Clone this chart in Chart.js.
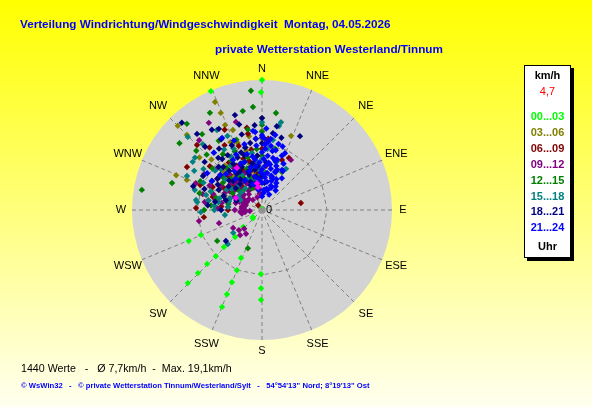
<!DOCTYPE html>
<html lang="de">
<head>
<meta charset="utf-8">
<title>Verteilung Windrichtung/Windgeschwindigkeit</title>
<script src="https://cdn.jsdelivr.net/npm/chart.js@4.4.1/dist/chart.umd.min.js"></script>
<style>
  html, body { margin: 0; padding: 0; background: #ffffff; overflow: hidden; }
  #windChart { display: block; }
</style>
</head>
<body>
<canvas id="windChart" width="592" height="407"></canvas>
<script>
/* ================================
   WINDROSE - Richtung / Geschwindigkeit
   ================================ */

// Himmelsrichtungen (Achsbeschriftung)
const directions = ['N', 'NNE', 'NE', 'ENE', 'E', 'ESE', 'SE', 'SSE',
                    'S', 'SSW', 'SW', 'WSW', 'W', 'WNW', 'NW', 'NNW'];

// Zeitblöcke (Uhr)
const hourBlocks = ['00...03', '03...06', '06...09', '09...12',
                    '12...15', '15...18', '18...21', '21...24'];

// Messwerte je Block: [Richtung in Grad, Geschwindigkeit in km/h]
const h00_03 = [
  [0, 19.1], [359.5, 17.3], [336.7, 19.0], [0, 0.2], [232, 1.7], [228, 1.8],
  [228, 3.7], [225, 5.6], [225.8, 7.8], [225, 9.6], [225.5, 11.3], [225.4, 13.2], [225.4, 15.3],
  [247.7, 9.7], [247, 11.7],
  [203.6, 7.7], [202.6, 9.6], [202.6, 11.5], [202.6, 13.4], [202.4, 15.4],
  [181, 9.4], [180.7, 11.5], [180.6, 13.2]
];
const h03_06 = [
  [336.5, 17.3], [337, 15.5], [315, 17.5], [315, 15.6], [292, 13.6], [0, 13.5], [0, 11.6],
  [21.4, 11.7], [291.8, 11.9], [336.5, 13.6],
  [330, 9], [335, 7.5], [340, 10.5], [345, 9], [350, 11], [325, 10], [320, 8.5],
  [315, 10.5], [355, 8], [0, 10.5], [310, 12], [340, 12.5],
  [325, 7], [330, 6], [345, 7], [350, 5.5], [320, 6.5], [335, 11], [315, 8], [340, 8]
];
const h06_09 = [
  [79.8, 5.8], [21.8, 7.9], [27.4, 8.6], [299.8, 12.7], [315, 13.5], [349.6, 12.3],
  [349.6, 11.4], [271.7, 9.7], [263, 8.6], [292, 9.8], [321, 0.9], [4.2, 10.0],
  [315, 7], [325, 8.5], [335, 6.5], [345, 7.5], [350, 9], [355, 10.5], [0, 9], [305, 6],
  [295, 8], [310, 10], [320, 6], [330, 11], [340, 10], [300, 5], [345, 4.5], [355, 5.5],
  [5, 6.5], [285, 7.5], [320, 12], [335, 13], [5, 10.5], [310, 4],
  [300, 6.5], [310, 5.5], [320, 4.5], [325, 5.5], [330, 7.5], [335, 5], [340, 4], [345, 6],
  [350, 7], [355, 4], [305, 8], [315, 8.5], [330, 3.5], [290, 6], [0, 5], [340, 8],
  [280, 8], [275, 6], [270, 5]
];
const h09_12 = [
  [328.6, 15.0], [343.5, 13.5], [318, 13.8], [30, 8.5],
  [238, 5.0], [214, 4.2], [229, 4.5], [260, 9.4], [253, 6.6], [223.5, 3.8], [221, 4.9],
  [265, 3.2], [263, 2.5], [265, 1.8],
  [300, 4], [305, 5], [295, 6], [290, 5], [285, 4], [280, 6], [275, 5], [282, 7], [292, 3],
  [288, 7.5], [300, 7], [310, 6], [305, 8], [278, 8.5], [285, 9], [295, 8.5], [315, 4.5],
  [310, 3.5], [298, 2.5], [285, 2.5], [270, 4], [272, 6.5], [320, 5.5], [325, 3.5],
  [330, 4.5], [318, 7], [335, 6], [340, 3.5], [345, 5], [350, 4], [355, 3], [326, 7.5],
  [312, 9], [302, 10], [292, 10.5], [318, 2],
  [300, 3], [310, 2.5], [320, 3], [330, 3.5], [340, 2], [290, 3.5], [280, 3], [275, 3],
  [295, 4.5], [305, 3.5], [315, 5.5], [325, 5], [335, 4.5], [345, 3.5], [352, 2.5],
  [285, 5.5], [270, 2.5], [260, 3], [300, 5.5], [310, 4.8]
];
const h12_15 = [
  [279.5, 17.9], [354.7, 17.6], [355, 15.2], [8.2, 14.4], [331.8, 16.2], [309, 15.6],
  [318.9, 16.8], [286.7, 13.8], [0, 12.5], [321.7, 14.2], [235.4, 8.0], [200.2, 6.0],
  [349, 14.8], [27.8, 6.3], [12, 9.2],
  [300, 8.5], [310, 9.5], [320, 8], [325, 10], [330, 7], [335, 9.5], [340, 11], [345, 8],
  [350, 6.5], [355, 9], [0, 8], [5, 5.5], [315, 11.5], [305, 7], [295, 10], [290, 6],
  [340, 5], [328, 12], [312, 13], [350, 12], [0, 11.5], [285, 9.5],
  [300, 5], [310, 4.5], [320, 4], [325, 6], [330, 5.5], [335, 3.5], [340, 6.5], [345, 4],
  [350, 3], [355, 5], [295, 7], [305, 5.5], [315, 6.5], [328, 8.5], [338, 7.5], [290, 8],
  [0, 6], [310, 7.5], [280, 5], [275, 7.5], [285, 7], [270, 8.5]
];
const h15_18 = [
  [12.2, 13.2], [11.4, 12.6], [30.3, 7.0], [16.3, 7.3], [0, 12.9], [8.9, 10.4],
  [314.6, 15.3], [304.8, 12.4], [294.4, 12.1], [286.6, 10.3], [278.6, 9.8], [330.6, 13.5],
  [277, 9.6], [225, 7.1], [262.3, 5.5], [17, 7.5], [231.6, 5.4],
  [290, 8], [295, 9.5], [300, 6], [305, 10.5], [310, 7], [315, 8.5], [320, 11], [325, 6.5],
  [330, 9], [335, 12], [340, 7.5], [345, 9.5], [285, 6.5], [280, 8], [300, 11.5], [312, 5],
  [322, 4], [350, 8.5], [355, 6], [0, 7.5], [5, 9], [275, 7], [308, 12.5], [328, 10.5], [318, 13],
  [300, 4], [305, 5.5], [310, 4], [315, 6], [320, 5], [325, 8], [330, 6], [335, 5],
  [340, 4.5], [345, 6.5], [290, 5], [295, 3.5], [285, 5], [350, 4.5], [355, 7], [0, 5.5],
  [320, 7.5], [310, 9], [335, 10], [300, 8.5],
  [275, 5], [280, 6.5], [285, 8.5], [270, 7], [268, 9]
];
const h18_21 = [
  [317.4, 17.4], [27.2, 12.2], [344.1, 14.5], [8.1, 11.4], [328, 13.9], [289, 10.7],
  [319.5, 14.7], [229.3, 7.0],
  [315, 9], [320, 10], [325, 11], [330, 12], [335, 10.5], [340, 9], [345, 11.5], [350, 10],
  [355, 12.5], [0, 9.8], [320, 7.5], [328, 8], [335, 7], [342, 8.5], [348, 7], [355, 8],
  [310, 11], [305, 8], [300, 10], [318, 12.5], [332, 13.5], [340, 6], [325, 5.5], [350, 5],
  [5, 7], [10, 12.5], [15, 11], [338, 4.5], [312, 6.5], [295, 7], [290, 9], [345, 13],
  [0, 13.5], [322, 9.5], [330, 6.5],
  [320, 5], [325, 6.5], [315, 6], [330, 5], [335, 4], [345, 4], [350, 6], [355, 6.5],
  [340, 5.5], [310, 5], [305, 6], [300, 7.5], [318, 8.5], [328, 9.5], [335, 8.5], [345, 9.5],
  [0, 5], [5, 4], [290, 6], [310, 8],
  [280, 7], [275, 8], [285, 5.5], [270, 6], [290, 4]
];
const h21_24 = [
  [355, 11.5], [0, 11], [2, 10.5], [5, 10], [8, 9.5], [3, 9], [10, 8.8], [0, 8.5], [6, 8],
  [12, 7.8], [15, 7.5], [2, 7.5], [8, 7], [18, 6.8], [4, 6.5], [12, 6.2], [20, 6], [0, 6],
  [8, 5.5], [15, 5.2], [25, 5], [5, 4.8], [18, 4.5], [10, 4.2], [30, 4], [0, 4], [22, 3.5],
  [12, 3.2], [355, 9.5], [350, 8], [352, 6.5], [345, 10], [348, 5], [357, 7], [3, 12],
  [10, 11.2], [28, 6.5], [20, 8.5], [14, 10], [340, 7.5], [335, 9], [342, 6], [330, 8.5],
  [338, 11], [325, 7], [6, 3], [35, 3.5], [25, 7.5], [18, 9.8], [20.6, 6.3], [26.6, 6.6],
  [16.9, 5.1], [18.9, 5.9], [16.7, 7.7], [0, 10.7], [353.5, 11.7], [17.4, 4.9], [2.6, 9.6],
  [303.9, 9.7], [310, 8], [331, 12.1], [320, 11],
  [350, 3], [355, 4.5], [358, 5.5], [352, 7.5], [340, 4], [345, 6.5], [5, 2.5], [15, 3],
  [25, 2.5], [0, 2], [10, 6.8], [3, 5.2], [20, 3.8], [28, 4.5], [32, 5.5], [13, 9],
  [7, 10.5], [22, 9], [355, 10.5], [345, 8.5], [320, 6], [330, 5], [315, 7.5], [335, 7.5],
  [300, 8.5]
];
// letzte Stunde
const lastHour = [[329.2, 7.2], [350, 3.4], [349.5, 4.0], [294.8, 4.2]];

// Kennzahlen
const valueCount = 1440;
const avgSpeed = 7.7;
const maxSpeed = 19.1;
const currentSpeed = 4.7;

const blockSeries = [h00_03, h03_06, h06_09, h09_12, h12_15, h15_18, h18_21, h21_24];
const blockColors = ['#00ff00', '#808000', '#800000', '#800080',
                     '#008000', '#008080', '#000080', '#0000ff'];
const lastHourColor = '#ff00ff';

const FONT = "'Liberation Sans', Arial, sans-serif";

function fmt(v) {
  return v.toFixed(1).replace('.', ',');
}

// Richtung/Geschwindigkeit -> x/y (Nord oben, im Uhrzeigersinn)
function toXY(pairs) {
  return pairs.map(([dir, spd]) => {
    const a = dir * Math.PI / 180;
    return { x: spd * Math.sin(a), y: spd * Math.cos(a) };
  });
}

// Text auf eine gegebene Breite skalieren
function fitText(ctx, text, x, y, width, weight, color) {
  ctx.font = `${weight} 20px ${FONT}`;
  const size = 20 * width / ctx.measureText(text).width;
  ctx.font = `${weight} ${size.toFixed(2)}px ${FONT}`;
  ctx.fillStyle = color;
  ctx.textAlign = 'left';
  ctx.textBaseline = 'middle';
  ctx.fillText(text, x, y);
}

function geometry(chart) {
  const xs = chart.scales.x, ys = chart.scales.y;
  const cx = xs.getPixelForValue(0);
  const cy = ys.getPixelForValue(0);
  const R = xs.getPixelForValue(maxSpeed) - cx;
  return { cx, cy, R };
}

const rosePlugin = {
  id: 'rose',
  beforeDraw(chart) {
    const ctx = chart.ctx;
    const { cx, cy, R } = geometry(chart);

    // Hintergrund
    const bg = ctx.createLinearGradient(0, 0, 0, chart.height);
    bg.addColorStop(0, '#ffff00');
    bg.addColorStop(1, '#fffff0');
    ctx.save();
    ctx.fillStyle = bg;
    ctx.fillRect(0, 0, chart.width, chart.height);

    // Scheibe
    ctx.beginPath();
    ctx.arc(cx, cy, R, 0, Math.PI * 2);
    ctx.fillStyle = '#d3d3d3';
    ctx.fill();

    // Gitter
    ctx.strokeStyle = '#808080';
    ctx.lineWidth = 1;
    ctx.setLineDash([4, 3]);
    directions.forEach((d, i) => {
      const a = i * Math.PI / 8;
      ctx.beginPath();
      ctx.moveTo(cx, cy);
      ctx.lineTo(cx + R * Math.sin(a), cy - R * Math.cos(a));
      ctx.stroke();
    });
    ctx.beginPath();
    directions.forEach((d, i) => {
      const a = i * Math.PI / 8;
      const px = cx + R / 2 * Math.sin(a), py = cy - R / 2 * Math.cos(a);
      if (i === 0) ctx.moveTo(px, py); else ctx.lineTo(px, py);
    });
    ctx.closePath();
    ctx.stroke();
    ctx.restore();
  },
  afterDraw(chart) {
    const ctx = chart.ctx;
    const { cx, cy, R } = geometry(chart);
    ctx.save();

    // Mittelpunkt
    ctx.fillStyle = '#909090';
    ctx.fillRect(cx - 2.5, cy - 2.5, 5, 5);
    ctx.fillStyle = '#000000';
    ctx.font = `11px ${FONT}`;
    ctx.textAlign = 'left';
    ctx.textBaseline = 'middle';
    ctx.fillText('0', cx + 4, cy);

    // Richtungen
    ctx.textAlign = 'center';
    directions.forEach((d, i) => {
      const a = i * Math.PI / 8;
      const r = R + 11 + 6 * Math.abs(Math.sin(2 * a));
      ctx.fillText(d, cx + r * Math.sin(a), cy - r * Math.cos(a));
    });

    // Titel
    fitText(ctx, 'Verteilung Windrichtung/Windgeschwindigkeit  Montag, 04.05.2026',
            20, 25, 371, 'bold', '#0000ff');
    fitText(ctx, 'private Wetterstation Westerland/Tinnum', 215, 50, 228, 'bold', '#0000ff');

    // Fusszeilen
    fitText(ctx, `${valueCount} Werte   -   Ø ${fmt(avgSpeed)}km/h  -  Max. ${fmt(maxSpeed)}km/h`,
            21, 369, 211, 'normal', '#000000');
    fitText(ctx, '© WsWin32   -   © private Wetterstation Tinnum/Westerland/Sylt   -   54°54\'13" Nord; 8°19\'13" Ost',
            21, 386, 349, 'bold', '#0000ff');

    // Legende
    const bx = 524, by = 65, bw = 47, bh = 193;
    ctx.fillStyle = '#000000';
    ctx.fillRect(bx + 3, by + 3, bw, bh);
    ctx.fillStyle = '#ffffff';
    ctx.fillRect(bx, by, bw, bh);
    ctx.strokeStyle = '#000000';
    ctx.lineWidth = 1;
    ctx.strokeRect(bx + 0.5, by + 0.5, bw - 1, bh - 1);

    const lx = bx + bw / 2;
    ctx.textAlign = 'center';
    ctx.textBaseline = 'middle';
    ctx.font = `bold 11px ${FONT}`;
    ctx.fillStyle = '#000000';
    ctx.fillText('km/h', lx, 76);
    ctx.font = `11px ${FONT}`;
    ctx.fillStyle = '#ff0000';
    ctx.fillText(fmt(currentSpeed), lx, 92);
    ctx.font = `bold 11px ${FONT}`;
    hourBlocks.forEach((h, i) => {
      ctx.fillStyle = blockColors[i];
      ctx.fillText(h, lx, 117 + i * 15.9);
    });
    ctx.fillStyle = '#000000';
    ctx.fillText('Uhr', lx, 247);
    ctx.restore();
  }
};

const datasets = blockSeries.map((series, i) => ({
  label: hourBlocks[i],
  data: toXY(series),
  backgroundColor: blockColors[i],
  order: blockSeries.length - i + 1
}));
datasets.push({
  label: 'letzte Stunde',
  data: toXY(lastHour),
  backgroundColor: lastHourColor,
  order: 0
});

new Chart(document.getElementById('windChart'), {
  type: 'scatter',
  data: { datasets },
  options: {
    responsive: false,
    animation: false,
    events: [],
    layout: { padding: { left: 132, right: 200, top: 80, bottom: 67 } },
    elements: {
      point: { pointStyle: 'rectRot', radius: 3.2, borderWidth: 0 }
    },
    datasets: { scatter: { clip: false } },
    scales: {
      x: { type: 'linear', min: -maxSpeed, max: maxSpeed, display: false },
      y: { type: 'linear', min: -maxSpeed, max: maxSpeed, display: false }
    },
    plugins: {
      legend: { display: false },
      tooltip: { enabled: false }
    }
  },
  plugins: [rosePlugin]
});
</script>
</body>
</html>
